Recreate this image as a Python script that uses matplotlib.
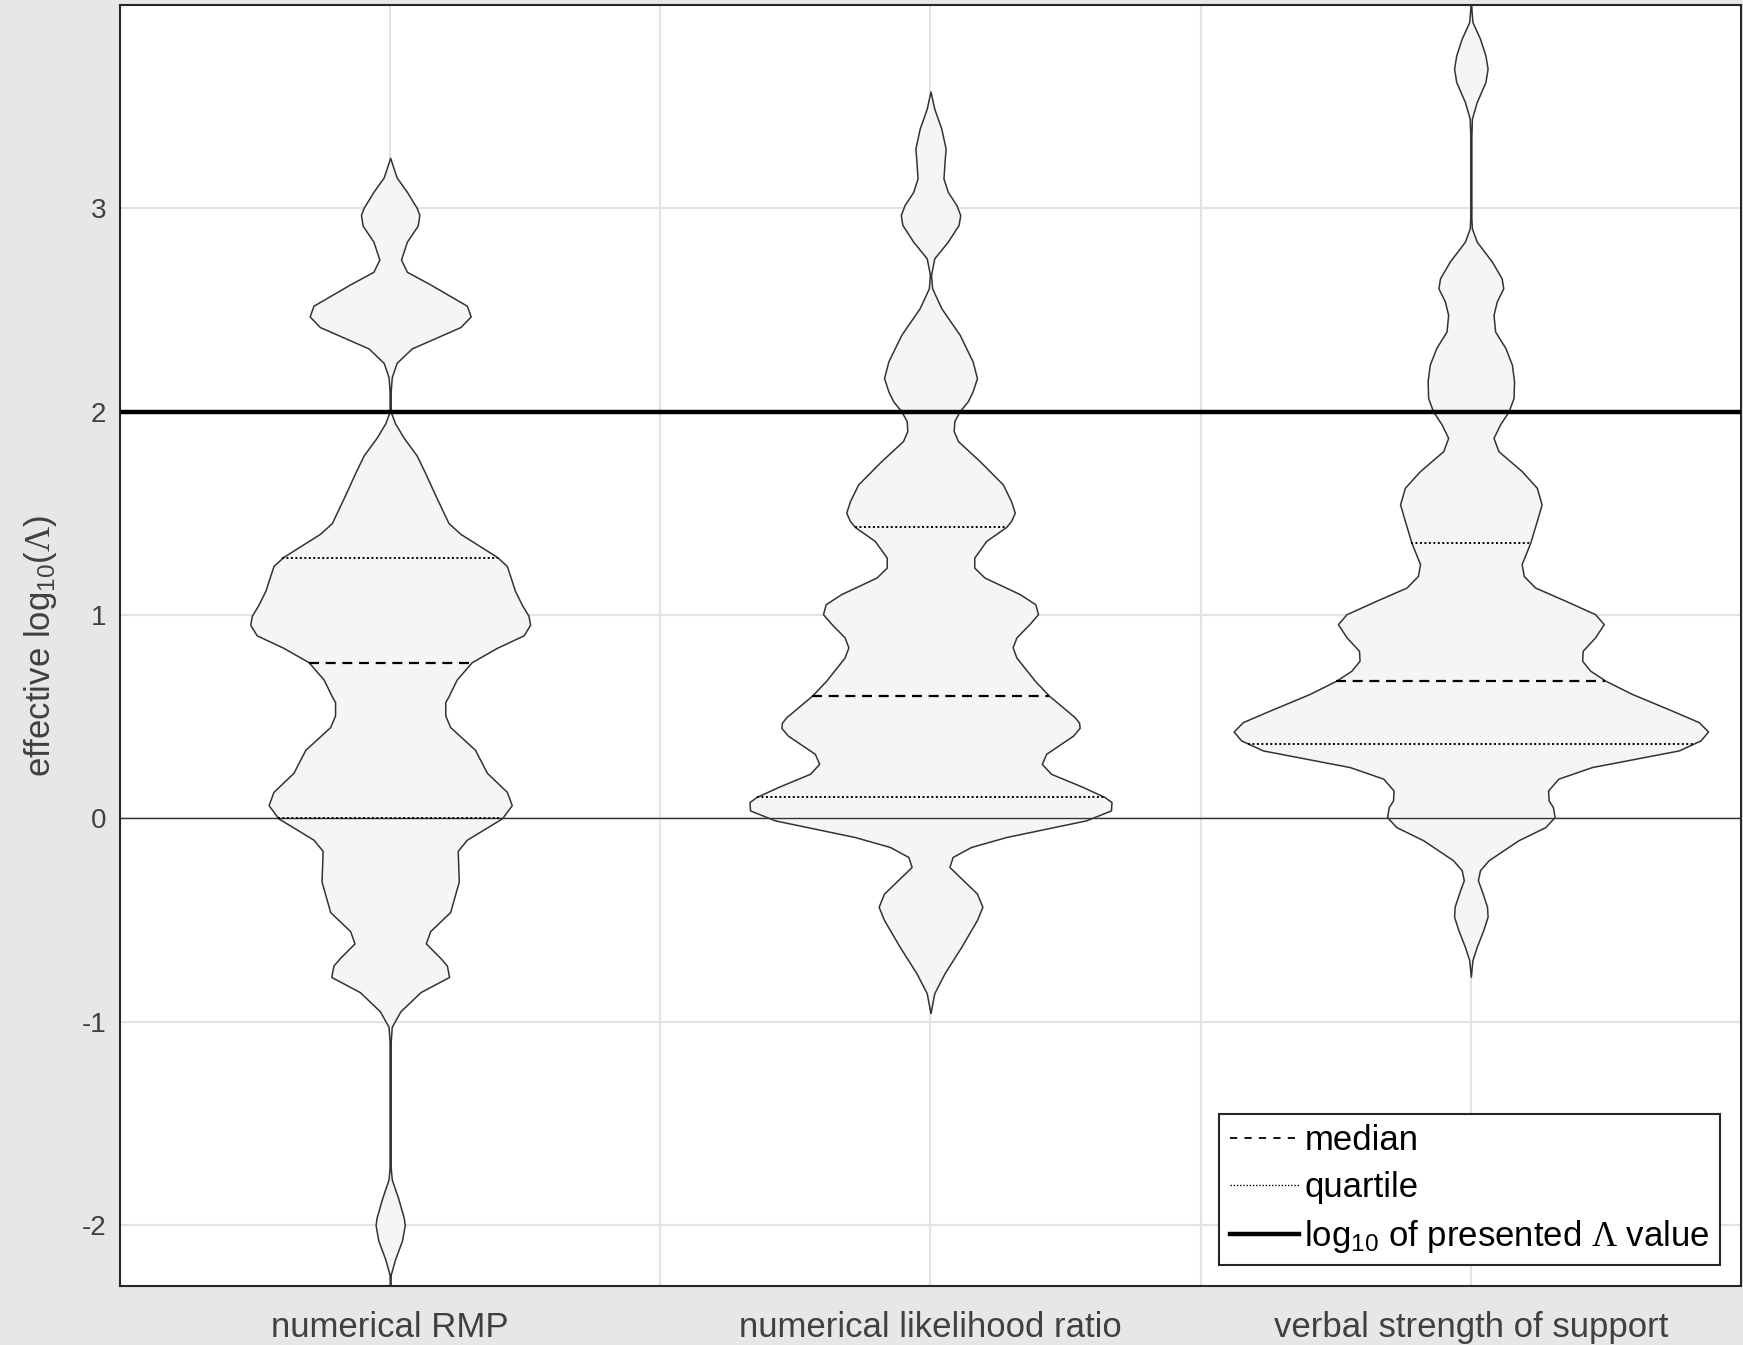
import numpy as np
import matplotlib
matplotlib.use('Agg')
import matplotlib.pyplot as plt
from matplotlib.lines import Line2D

plt.rcParams['font.family'] = ['Liberation Sans', 'DejaVu Sans']
plt.rcParams['mathtext.fontset'] = 'custom'
plt.rcParams['mathtext.rm'] = 'Liberation Serif'
plt.rcParams['mathtext.it'] = 'Liberation Serif:italic'
plt.rcParams['mathtext.bf'] = 'Liberation Serif:bold'
plt.rcParams['axes.unicode_minus'] = False

conditions = ['numerical RMP', 'numerical likelihood ratio', 'verbal strength of support']
presented = 2.0

# violin outlines: effective log10 value and half width of the density
rmp_y = [3.248, 3.152, 3.081, 3.003, 2.968, 2.915, 2.836, 2.748, 2.688, 2.626,
         2.521, 2.468, 2.416, 2.311, 2.240, 2.170, 2.100, 2.000, 1.943, 1.872,
         1.785, 1.697, 1.575, 1.452, 1.399, 1.285, 1.241, 1.119, 1.049, 0.996,
         0.952, 0.900, 0.839, 0.768, 0.682, 0.600, 0.572, 0.506, 0.449, 0.337,
         0.224, 0.130, 0.065, 0.000, -0.105, -0.160, -0.311, -0.461, -0.555, -0.615,
         -0.687, -0.724, -0.780, -0.855, -0.949, -1.025, -1.099, -1.719, -1.776, -1.870,
         -1.963, -2.000, -2.076, -2.169, -2.245, -2.350]
rmp_w = [0.000, 0.012, 0.031, 0.049, 0.054, 0.051, 0.031, 0.020, 0.031, 0.074,
         0.142, 0.149, 0.130, 0.040, 0.012, 0.003, 0.001, 0.001, 0.009, 0.025,
         0.049, 0.065, 0.086, 0.108, 0.130, 0.198, 0.216, 0.231, 0.244, 0.256,
         0.259, 0.247, 0.198, 0.151, 0.123, 0.108, 0.102, 0.102, 0.111, 0.157,
         0.179, 0.216, 0.225, 0.207, 0.142, 0.125, 0.127, 0.111, 0.074, 0.066,
         0.093, 0.105, 0.109, 0.056, 0.019, 0.003, 0.001, 0.001, 0.003, 0.015,
         0.025, 0.027, 0.022, 0.009, 0.001, 0.000]

lr_y = [3.575, 3.490, 3.392, 3.294, 3.229, 3.147, 3.081, 3.016, 2.967, 2.918,
        2.836, 2.754, 2.673, 2.607, 2.509, 2.378, 2.247, 2.165, 2.100, 2.051,
        2.002, 1.953, 1.904, 1.855, 1.757, 1.642, 1.560, 1.503, 1.462, 1.433,
        1.364, 1.282, 1.233, 1.184, 1.103, 1.053, 1.004, 0.955, 0.890, 0.841,
        0.791, 0.677, 0.604, 0.497, 0.470, 0.445, 0.407, 0.317, 0.268, 0.219,
        0.154, 0.105, 0.080, 0.039, -0.010, -0.092, -0.141, -0.190, -0.239, -0.288,
        -0.370, -0.435, -0.500, -0.632, -0.762, -0.860, -0.958]
lr_w = [0.000, 0.007, 0.020, 0.028, 0.026, 0.024, 0.032, 0.048, 0.055, 0.052,
        0.032, 0.007, 0.001, 0.003, 0.020, 0.054, 0.078, 0.086, 0.078, 0.069,
        0.054, 0.044, 0.043, 0.051, 0.091, 0.134, 0.149, 0.156, 0.149, 0.140,
        0.103, 0.081, 0.081, 0.100, 0.165, 0.194, 0.199, 0.183, 0.159, 0.152,
        0.159, 0.193, 0.219, 0.267, 0.275, 0.276, 0.264, 0.214, 0.206, 0.223,
        0.282, 0.322, 0.335, 0.334, 0.288, 0.140, 0.075, 0.041, 0.035, 0.054,
        0.086, 0.096, 0.086, 0.057, 0.026, 0.007, 0.000]

verbal_y = [4.050, 3.981, 3.916, 3.834, 3.752, 3.687, 3.621, 3.523, 3.441, 3.360,
            2.950, 2.901, 2.836, 2.738, 2.656, 2.607, 2.542, 2.476, 2.394, 2.313,
            2.231, 2.149, 2.067, 2.002, 1.937, 1.871, 1.806, 1.708, 1.626, 1.544,
            1.462, 1.356, 1.250, 1.192, 1.135, 1.070, 1.004, 0.955, 0.890, 0.824,
            0.775, 0.726, 0.677, 0.612, 0.530, 0.473, 0.427, 0.383, 0.334, 0.252,
            0.195, 0.137, 0.088, 0.055, 0.006, -0.043, -0.108, -0.206, -0.255, -0.304,
            -0.370, -0.435, -0.484, -0.550, -0.632, -0.697, -0.779]
verbal_w = [0.000, 0.001, 0.003, 0.017, 0.027, 0.031, 0.027, 0.011, 0.002, 0.001,
            0.001, 0.002, 0.011, 0.039, 0.057, 0.060, 0.048, 0.042, 0.045, 0.064,
            0.076, 0.080, 0.079, 0.070, 0.054, 0.042, 0.051, 0.094, 0.122, 0.131,
            0.122, 0.110, 0.094, 0.098, 0.119, 0.175, 0.230, 0.246, 0.230, 0.207,
            0.206, 0.221, 0.249, 0.298, 0.372, 0.422, 0.439, 0.425, 0.385, 0.224,
            0.162, 0.143, 0.144, 0.152, 0.155, 0.138, 0.088, 0.033, 0.017, 0.013,
            0.022, 0.030, 0.031, 0.023, 0.011, 0.003, 0.000]

medians = [0.765, 0.604, 0.677]
lower_q = [0.000, 0.105, 0.367]
upper_q = [1.281, 1.433, 1.356]

outlines = [(rmp_y, rmp_w), (lr_y, lr_w), (verbal_y, verbal_w)]
positions = [1, 2, 3]

median_ls = (0, (4.5, 3))
quart_ls = (0, (1, 1.3))
dark = '#333333'
text_col = '#404040'

fig = plt.figure(figsize=(17.43, 13.45), dpi=100, facecolor='#e6e7e9')
ax = fig.add_axes([120 / 1743, 59 / 1345, 1621 / 1743, 1281 / 1345])
ax.set_facecolor('white')

for pos, (ys, ws), med, q1, q3 in zip(positions, outlines, medians, lower_q, upper_q):
    ys = np.array(ys)
    ws = np.array(ws)
    ax.fill_betweenx(ys, pos - ws, pos + ws, facecolor='#f5f5f5',
                     edgecolor=dark, linewidth=1.1, zorder=2)
    for val, ls, lw in [(med, median_ls, 1.6), (q1, quart_ls, 1.4), (q3, quart_ls, 1.4)]:
        hw = np.interp(val, ys[::-1], ws[::-1])
        ax.plot([pos - hw, pos + hw], [val, val], color='black', linestyle=ls,
                linewidth=lw, zorder=4)

ax.axhline(0, color=dark, linewidth=1.0, zorder=3)
ax.axhline(presented, color='black', linewidth=3.2, zorder=5)

ax.set_xlim(0.5, 3.5)
ax.set_ylim(-2.3, 4.0)
ax.set_xticks([1, 1.5, 2, 2.5, 3])
ax.set_xticklabels([conditions[0], '', conditions[1], '', conditions[2]])
ax.set_yticks([-2, -1, 0, 1, 2, 3])
ax.tick_params(axis='both', length=0, colors=text_col)
ax.tick_params(axis='y', labelsize=20, pad=10)
ax.tick_params(axis='x', labelsize=25, pad=18)
ax.grid(True, color='#e3e3e3', linewidth=1.5)
ax.set_axisbelow(True)
for sp in ax.spines.values():
    sp.set_color('#262626')
    sp.set_linewidth(1.5)

fig.text(41 / 1743, 0.52, r'effective log$_{\mathregular{10}}$($\mathrm{\Lambda}$)',
         rotation=90, ha='center', va='center', fontsize=25, color=text_col)

handles = [Line2D([], [], color='black', linestyle=(0, (4, 4)), linewidth=1.3),
           Line2D([], [], color='black', linestyle=quart_ls, linewidth=1.0),
           Line2D([], [], color='black', linewidth=3.2)]
labels = ['median', 'quartile', r'log$_{\mathregular{10}}$ of presented $\mathrm{\Lambda}$ value']
leg = ax.legend(handles, labels, loc='lower right', fontsize=25, frameon=True,
                fancybox=False, framealpha=1, edgecolor='#262626',
                handlelength=2.0, handletextpad=0.15, borderpad=0.3,
                labelspacing=0.4, borderaxespad=0.6)
leg.get_frame().set_linewidth(1.5)
leg.set_zorder(10)

fig.savefig('out.png', dpi=100, facecolor=fig.get_facecolor())
